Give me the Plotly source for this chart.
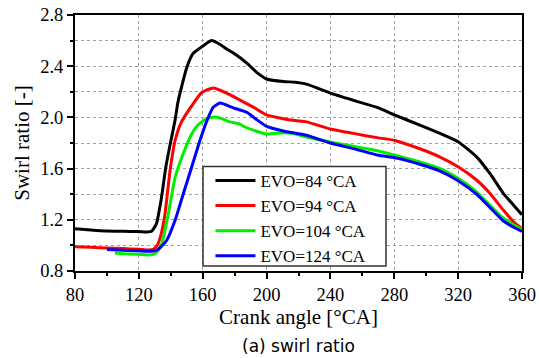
import plotly.graph_objects as go

# Data
names = ["EVO=84 °CA", "EVO=94 °CA", "EVO=104 °CA", "EVO=124 °CA"]
colors = ["#000000", "#ff0000", "#00ee00", "#0000ff"]

x_84 = [80, 90, 100, 110, 120, 125, 128, 131, 134, 137, 140.6, 142.7, 144.5, 146.8, 150, 154, 160.4, 165.6, 170.9, 175, 181.3, 188, 194, 200, 210.5, 218, 225, 240, 254, 270, 280, 296, 308.7, 320, 331.7, 340, 348.4, 355, 360]
y_84 = [1.13, 1.12, 1.112, 1.11, 1.108, 1.105, 1.11, 1.17, 1.36, 1.62, 1.85, 1.98, 2.12, 2.24, 2.39, 2.50, 2.56, 2.60, 2.57, 2.535, 2.485, 2.42, 2.35, 2.30, 2.28, 2.275, 2.26, 2.19, 2.135, 2.075, 2.02, 1.94, 1.875, 1.81, 1.69, 1.56, 1.405, 1.31, 1.24]

x_94 = [80, 90, 100, 110, 120, 126, 129, 131.5, 134, 136.4, 139.5, 142.7, 146.5, 152, 159.4, 166.7, 175, 183.4, 191.7, 200, 210.5, 218, 225, 239.8, 254.4, 270, 280.5, 296, 308.7, 320.2, 331.7, 340, 348.4, 355, 360]
y_94 = [0.99, 0.985, 0.98, 0.975, 0.97, 0.965, 0.97, 1.00, 1.09, 1.25, 1.58, 1.82, 1.96, 2.07, 2.195, 2.23, 2.19, 2.135, 2.08, 2.02, 1.99, 1.975, 1.965, 1.91, 1.875, 1.84, 1.82, 1.755, 1.69, 1.612, 1.509, 1.405, 1.274, 1.18, 1.13]

x_104 = [105, 110, 120, 127, 130, 132, 134.3, 138.5, 142.7, 147.9, 153.1, 156.2, 159.4, 162.5, 167.7, 172, 177, 182.9, 186.5, 191.7, 200, 210.5, 218, 225, 239.8, 254.4, 270, 280.5, 296, 308.7, 320.2, 331.7, 340, 348.4, 355, 360]
y_104 = [0.94, 0.935, 0.93, 0.925, 0.935, 0.96, 1.01, 1.25, 1.53, 1.72, 1.87, 1.93, 1.965, 1.99, 2.003, 1.99, 1.965, 1.95, 1.925, 1.90, 1.87, 1.88, 1.87, 1.847, 1.808, 1.774, 1.738, 1.704, 1.652, 1.60, 1.522, 1.417, 1.313, 1.21, 1.16, 1.125]

x_124 = [100, 110, 120, 128, 131.2, 134, 137.5, 142.7, 147.9, 153.1, 158.3, 162.7, 166.7, 170.9, 179.2, 187.6, 193, 200, 210.5, 225, 239.8, 254.4, 270, 280.5, 296, 308.7, 320.2, 331.7, 340, 348.4, 355, 360]
y_124 = [0.967, 0.963, 0.958, 0.954, 0.962, 0.99, 1.04, 1.196, 1.405, 1.612, 1.821, 1.977, 2.081, 2.112, 2.075, 2.04, 1.99, 1.93, 1.894, 1.86, 1.80, 1.756, 1.704, 1.685, 1.634, 1.581, 1.503, 1.399, 1.295, 1.19, 1.14, 1.11]

xs = [x_84, x_94, x_104, x_124]
ys = [y_84, y_94, y_104, y_124]

x_ticks = [80, 120, 160, 200, 240, 280, 320, 360]
y_ticks = [0.8, 1.2, 1.6, 2.0, 2.4, 2.8]

serif = "Liberation Serif"

fig = go.Figure()
for n, c, xv, yv in zip(names, colors, xs, ys):
    fig.add_trace(go.Scatter(x=xv, y=yv, mode="lines", name=n,
                             line=dict(color=c, width=3, shape="spline", smoothing=0.5)))

grid = dict(gridcolor="#a0a0a0", griddash="dot", gridwidth=1)
fig.update_layout(
    template="none",
    width=539, height=358,
    margin=dict(l=75, r=17, t=15, b=87),
    paper_bgcolor="white", plot_bgcolor="white",
    font=dict(family=serif, size=16, color="black"),
    showlegend=True,
    legend=dict(x=0.303, y=0.422, xanchor="left", yanchor="top",
                bgcolor="rgba(0,0,0,0)", borderwidth=0,
                font=dict(family=serif, size=17, color="black"),
                tracegroupgap=0, itemwidth=40),
    shapes=[
        dict(type="rect", xref="paper", yref="paper", x0=0.2864, x1=0.6957, y0=0.0195, y1=0.408,
             line=dict(color="#333333", width=1.5), fillcolor="white", layer="above"),
    ],
    xaxis=dict(range=[80, 360], tickvals=x_ticks, showline=True, linecolor="black",
               linewidth=2, mirror=True, ticks="outside", ticklen=6, tickwidth=1.5,
               tickcolor="black", showgrid=True, zeroline=False, automargin=False,
               minor=dict(dtick=20, ticks="outside", ticklen=3, tickcolor="black", showgrid=False),
               title=dict(text="Crank angle [°CA]", font=dict(family=serif, size=21), standoff=1),
               tickfont=dict(family=serif, size=18.5), **grid),
    yaxis=dict(range=[0.8, 2.8], tickvals=y_ticks, tickformat=".1f", showline=True,
               linecolor="black", linewidth=2, mirror=True, ticks="outside", ticklen=6,
               tickwidth=1.5, tickcolor="black", showgrid=True, zeroline=False, automargin=False,
               minor=dict(dtick=0.2, tick0=0.8, ticks="outside", ticklen=3, tickcolor="black",
                          showgrid=True, gridcolor="#a0a0a0", griddash="dot", gridwidth=1),
               title=dict(text="Swirl ratio [-]", font=dict(family=serif, size=21), standoff=5),
               tickfont=dict(family=serif, size=18.5), **grid),
    annotations=[dict(text="(a) swirl ratio", x=0.5, y=-0.245, xref="paper", yref="paper",
                      xanchor="center", yanchor="top", showarrow=False,
                      font=dict(family="DejaVu Sans", size=17, color="black"))],
)

fig.write_html("out.html")
